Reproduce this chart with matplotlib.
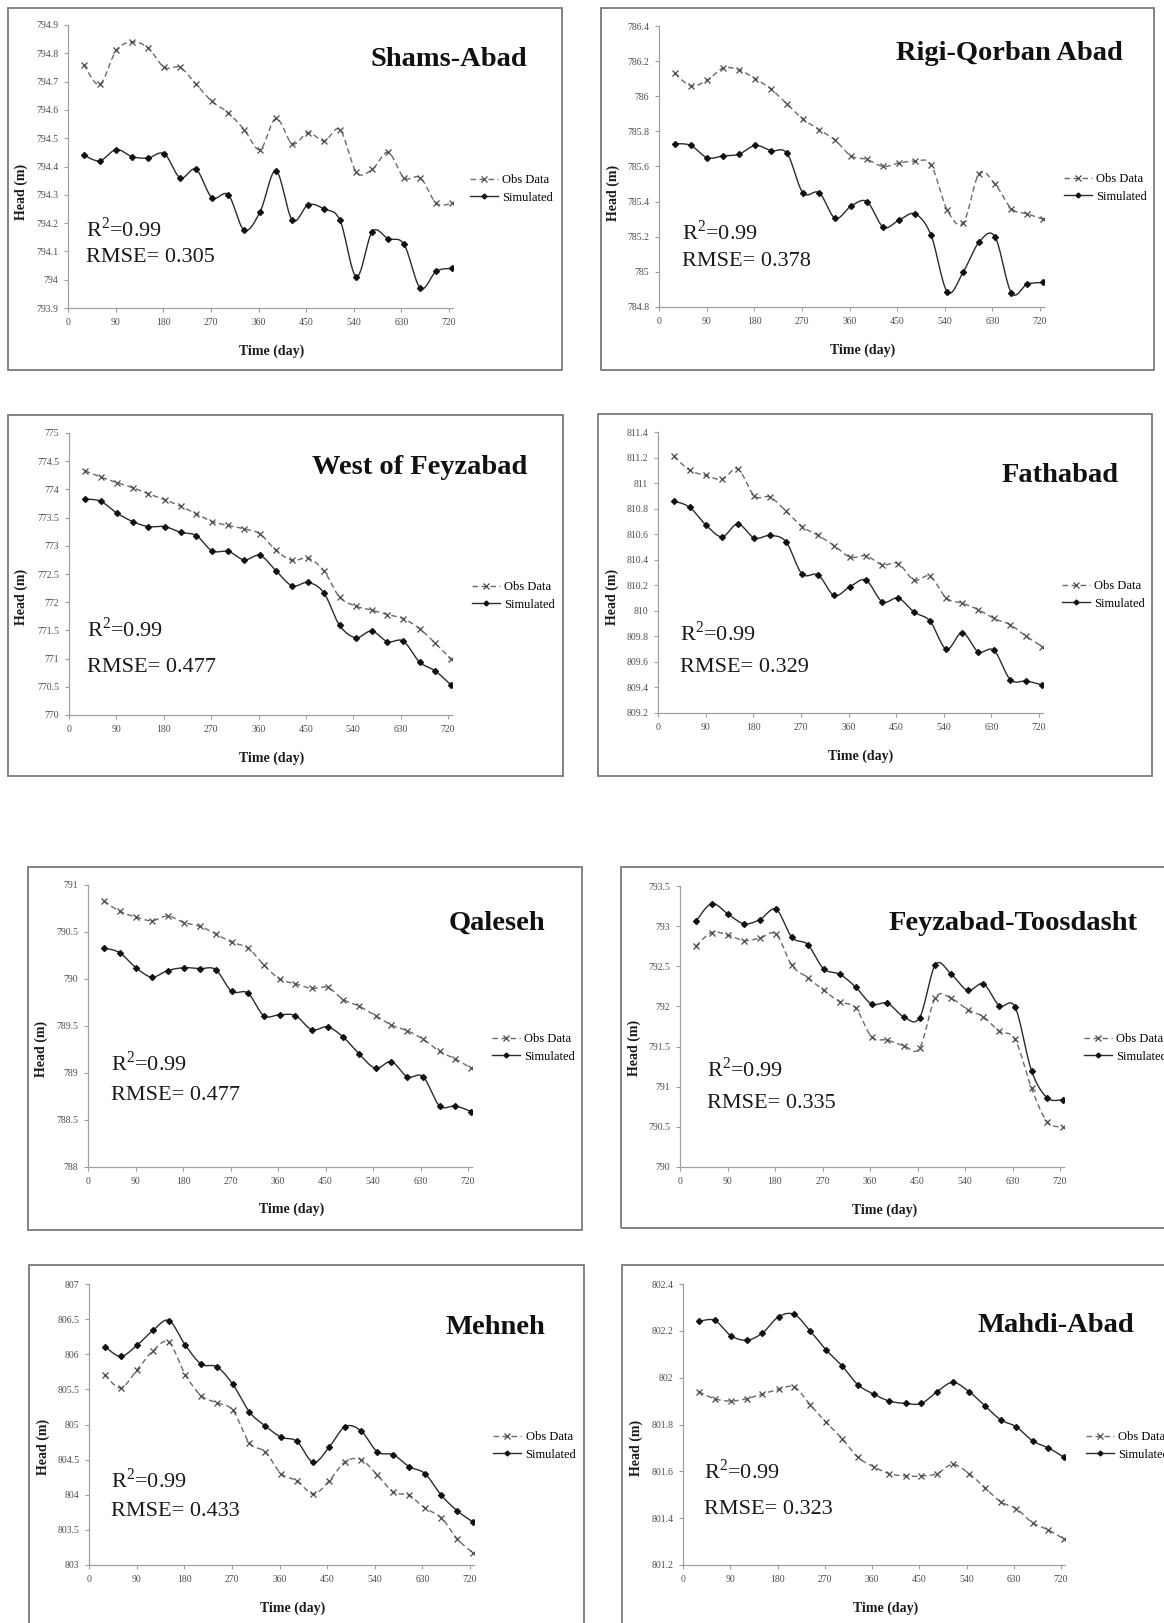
import numpy as np
import matplotlib
matplotlib.use("Agg")
import matplotlib.pyplot as plt
from matplotlib.lines import Line2D
from matplotlib.patches import Rectangle

plt.rcParams['font.family'] = ['Liberation Serif', 'DejaVu Serif']
plt.rcParams['mathtext.fontset'] = 'custom'
plt.rcParams['mathtext.rm'] = 'Liberation Serif'

W, H = 1164, 1623

# monthly observation days
days = [30, 60, 91, 121, 151, 182, 212, 242, 272, 303, 333, 363,
        393, 424, 454, 484, 514, 545, 575, 605, 635, 666, 696, 726]

# --- observed / simulated heads (m) ---
shams_obs = [794.76, 794.69, 794.81, 794.84, 794.82, 794.75, 794.75, 794.69, 794.63, 794.59, 794.53, 794.46,
             794.57, 794.48, 794.52, 794.49, 794.53, 794.38, 794.39, 794.45, 794.36, 794.36, 794.27, 794.27]
shams_sim = [794.44, 794.42, 794.46, 794.435, 794.43, 794.445, 794.36, 794.39, 794.29, 794.30, 794.175, 794.24,
             794.385, 794.21, 794.265, 794.25, 794.21, 794.01, 794.17, 794.145, 794.125, 793.97, 794.03, 794.04]

rigi_obs = [786.13, 786.06, 786.09, 786.16, 786.15, 786.10, 786.04, 785.955, 785.87, 785.81, 785.75, 785.66,
            785.64, 785.60, 785.62, 785.63, 785.61, 785.35, 785.28, 785.56, 785.50, 785.36, 785.33, 785.30]
rigi_sim = [785.73, 785.72, 785.65, 785.66, 785.67, 785.72, 785.69, 785.675, 785.45, 785.45, 785.305, 785.375,
            785.40, 785.255, 785.295, 785.33, 785.21, 784.885, 785.00, 785.17, 785.20, 784.88, 784.93, 784.94]

west_obs = [774.33, 774.22, 774.12, 774.03, 773.92, 773.82, 773.70, 773.57, 773.43, 773.36, 773.30, 773.21,
            772.92, 772.74, 772.78, 772.56, 772.09, 771.93, 771.86, 771.78, 771.71, 771.53, 771.27, 770.99]
west_sim = [773.83, 773.79, 773.58, 773.43, 773.34, 773.34, 773.24, 773.18, 772.91, 772.90, 772.75, 772.83,
            772.56, 772.29, 772.35, 772.17, 771.59, 771.37, 771.49, 771.30, 771.31, 770.94, 770.78, 770.53]

fath_obs = [811.21, 811.10, 811.06, 811.03, 811.11, 810.90, 810.89, 810.78, 810.66, 810.59, 810.51, 810.42,
            810.43, 810.36, 810.37, 810.24, 810.27, 810.10, 810.06, 810.01, 809.94, 809.89, 809.80, 809.72]
fath_sim = [810.86, 810.81, 810.67, 810.58, 810.68, 810.57, 810.59, 810.54, 810.29, 810.28, 810.12, 810.19,
            810.24, 810.07, 810.10, 809.99, 809.92, 809.70, 809.83, 809.68, 809.69, 809.46, 809.45, 809.42]

qal_obs = [790.83, 790.72, 790.66, 790.62, 790.67, 790.60, 790.56, 790.48, 790.39, 790.33, 790.15, 790.00,
           789.95, 789.90, 789.91, 789.78, 789.71, 789.61, 789.51, 789.45, 789.36, 789.23, 789.15, 789.05]
qal_sim = [790.33, 790.28, 790.12, 790.02, 790.09, 790.12, 790.11, 790.10, 789.87, 789.85, 789.61, 789.62,
           789.61, 789.46, 789.49, 789.38, 789.20, 789.05, 789.12, 788.96, 788.96, 788.65, 788.65, 788.59]

toos_obs = [792.75, 792.92, 792.89, 792.82, 792.85, 792.90, 792.51, 792.36, 792.20, 792.06, 791.98, 791.62,
            791.58, 791.51, 791.48, 792.11, 792.10, 791.96, 791.87, 791.69, 791.59, 790.98, 790.56, 790.50]
toos_sim = [793.06, 793.28, 793.15, 793.03, 793.08, 793.21, 792.86, 792.77, 792.47, 792.40, 792.24, 792.03,
            792.04, 791.87, 791.86, 792.52, 792.40, 792.20, 792.28, 792.01, 791.99, 791.20, 790.86, 790.84]

meh_obs = [805.71, 805.52, 805.78, 806.05, 806.17, 805.71, 805.41, 805.31, 805.20, 804.74, 804.61, 804.30,
           804.20, 804.01, 804.20, 804.47, 804.50, 804.28, 804.04, 803.99, 803.81, 803.67, 803.37, 803.17]
meh_sim = [806.11, 805.97, 806.13, 806.34, 806.48, 806.13, 805.86, 805.82, 805.57, 805.18, 804.98, 804.82,
           804.76, 804.46, 804.68, 804.97, 804.91, 804.61, 804.57, 804.40, 804.30, 803.99, 803.77, 803.61]

mahdi_obs = [801.94, 801.91, 801.90, 801.91, 801.93, 801.95, 801.96, 801.885, 801.81, 801.74, 801.66, 801.62,
             801.59, 801.58, 801.58, 801.59, 801.63, 801.59, 801.53, 801.47, 801.44, 801.38, 801.35, 801.31]
mahdi_sim = [802.24, 802.245, 802.18, 802.16, 802.19, 802.26, 802.27, 802.20, 802.12, 802.05, 801.97, 801.93,
             801.90, 801.89, 801.89, 801.94, 801.98, 801.94, 801.88, 801.82, 801.79, 801.73, 801.70, 801.66]

names = ["Shams-Abad", "Rigi-Qorban Abad", "West of Feyzabad", "Fathabad",
         "Qaleseh", "Feyzabad-Toosdasht", "Mehneh", "Mahdi-Abad"]
obs_series = [shams_obs, rigi_obs, west_obs, fath_obs, qal_obs, toos_obs, meh_obs, mahdi_obs]
sim_series = [shams_sim, rigi_sim, west_sim, fath_sim, qal_sim, toos_sim, meh_sim, mahdi_sim]
r2_values = ["0.99"] * 8
rmse_values = ["0.305", "0.378", "0.477", "0.329", "0.477", "0.335", "0.433", "0.323"]
y_ranges = [(793.9, 794.9, 0.1), (784.8, 786.4, 0.2), (770, 775, 0.5), (809.2, 811.4, 0.2),
            (788, 791, 0.5), (790, 793.5, 0.5), (803, 807, 0.5), (801.2, 802.4, 0.2)]
x_ticks = [0, 90, 180, 270, 360, 450, 540, 630, 720]
x_max = 728

# page layout in pixels: frame box, plot area (left, x of 720, top, bottom),
# title right/centre, stats text, legend anchor, axis titles
boxes = [(8, 562, 8, 370), (601, 1154, 8, 370), (8, 563, 415, 776), (598, 1152, 414, 776),
         (28, 582, 867, 1230), (621, 1190, 867, 1228), (29, 584, 1265, 1650), (622, 1190, 1265, 1650)]
plot_areas = [(68, 449, 25, 308), (659, 1040, 26, 307), (69, 448, 433, 715), (658, 1039, 432, 713),
              (88, 468, 885, 1167), (680, 1060, 886, 1167), (89, 470, 1284, 1565), (683, 1061, 1284, 1565)]
title_pos = [(527, 60), (1123, 53), (527, 468), (1119, 475), (545, 923), (1138, 923), (545, 1327), (1134, 1325)]
stats_pos = [(86, 230, 258), (682, 233, 262), (87, 630, 668), (680, 633, 667),
             (111, 1063, 1095), (707, 1070, 1103), (111, 1480, 1511), (704, 1472, 1510)]
legend_pos = [(470, 189), (1064, 188), (472, 596), (1062, 595), (492, 1048), (1084, 1048), (493, 1446), (1086, 1446)]
ylabel_pos = [(21, 192), (613, 193), (21, 597), (612, 597), (41, 1049), (634, 1048), (43, 1447), (636, 1448)]
xlabel_pos = [(272, 351), (863, 350), (272, 758), (861, 756), (292, 1209), (885, 1210), (293, 1608), (886, 1608)]


def fx(x):
    return x / W


def fy(y):
    return 1 - y / H


def smooth(x, y, n=16):
    """Catmull-Rom curve through the points, like a spreadsheet 'smoothed line'."""
    x = np.asarray(x, float)
    y = np.asarray(y, float)
    px = np.concatenate([[x[0]], x, [x[-1]]])
    py = np.concatenate([[y[0]], y, [y[-1]]])
    t = np.linspace(0, 1, n)
    xs, ys = [], []
    for i in range(1, len(px) - 2):
        for p, out in ((px, xs), (py, ys)):
            p0, p1, p2, p3 = p[i - 1], p[i], p[i + 1], p[i + 2]
            seg = 0.5 * (2 * p1 + (-p0 + p2) * t + (2 * p0 - 5 * p1 + 4 * p2 - p3) * t ** 2
                         + (-p0 + 3 * p1 - 3 * p2 + p3) * t ** 3)
            out.extend(seg if i == 1 else seg[1:])
    return np.array(xs), np.array(ys)


obs_color = '#6a6a6a'
sim_color = '#2b2b2b'
axis_color = '#a0a0a0'

fig = plt.figure(figsize=(W / 100, H / 100), dpi=100)

for k in range(8):
    bx0, bx1, by0, by1 = boxes[k]
    fig.add_artist(Rectangle((fx(bx0), fy(by1)), (bx1 - bx0) / W, (by1 - by0) / H,
                             transform=fig.transFigure, fill=False, ec='#7a7a7a', lw=1.3))

    x0, x720, top, bottom = plot_areas[k]
    right = x0 + (x720 - x0) * x_max / 720
    ax = fig.add_axes([fx(x0), fy(bottom), (right - x0) / W, (bottom - top) / H])

    lo, hi, step = y_ranges[k]
    yt = np.round(np.arange(lo, hi + step / 2, step), 2)

    xo, yo = smooth(days, obs_series[k])
    xs, ys = smooth(days, sim_series[k])
    ax.plot(xo, yo, color=obs_color, lw=1.0, linestyle=(0, (4, 2.5)))
    ax.plot(days, obs_series[k], 'x', color='#4a4a4a', ms=5, mew=0.9)
    ax.plot(xs, ys, color=sim_color, lw=1.0)
    ax.plot(days, sim_series[k], 'D', color='#111111', ms=3)

    ax.set_xlim(0, x_max)
    ax.set_ylim(lo, hi)
    ax.set_xticks(x_ticks)
    ax.set_yticks(yt)
    ax.set_yticklabels(['{:g}'.format(v) for v in yt])
    for s in ('top', 'right'):
        ax.spines[s].set_visible(False)
    for s in ('left', 'bottom'):
        ax.spines[s].set_color(axis_color)
        ax.spines[s].set_linewidth(0.9)
    ax.tick_params(direction='out', length=3, width=0.8, color=axis_color,
                   labelsize=7, labelcolor='#4d4d4d', pad=4)
    ax.patch.set_visible(False)

    # station name
    tx, ty = title_pos[k]
    fig.text(fx(tx), fy(ty), names[k], ha='right', va='center',
             fontsize=20.5, fontweight='bold', color='#111111')

    # fit statistics
    sx, sy1, sy2 = stats_pos[k]
    fig.text(fx(sx), fy(sy1), r'R$^{\mathregular{2}}$=' + r2_values[k], ha='left', va='center',
             fontsize=16, color='#1a1a1a')
    fig.text(fx(sx), fy(sy2), 'RMSE= ' + rmse_values[k], ha='left', va='center',
             fontsize=16, color='#1a1a1a')

    # axis titles
    lx, ly = ylabel_pos[k]
    fig.text(fx(lx), fy(ly), 'Head (m)', rotation=90, ha='center', va='center',
             fontsize=10, fontweight='bold', color='#1a1a1a')
    tx2, ty2 = xlabel_pos[k]
    fig.text(fx(tx2), fy(ty2), 'Time (day)', ha='center', va='center',
             fontsize=10, fontweight='bold', color='#1a1a1a')

    handles = [
        Line2D([], [], color=obs_color, lw=1.0, linestyle=(0, (4, 2.5)),
               marker='x', ms=4, mew=0.9, mec='#4a4a4a'),
        Line2D([], [], color=sim_color, lw=1.0, marker='D', ms=2.5, mfc='#111111', mec='#111111'),
    ]
    gx, gy = legend_pos[k]
    ax.legend(handles, ['Obs Data', 'Simulated'], loc='center left',
              bbox_to_anchor=(fx(gx), fy(gy)), bbox_transform=fig.transFigure,
              frameon=False, fontsize=9, borderpad=0, borderaxespad=0,
              handlelength=2.2, handletextpad=0.4, labelspacing=0.45)

fig.savefig('out.png', dpi=100)
